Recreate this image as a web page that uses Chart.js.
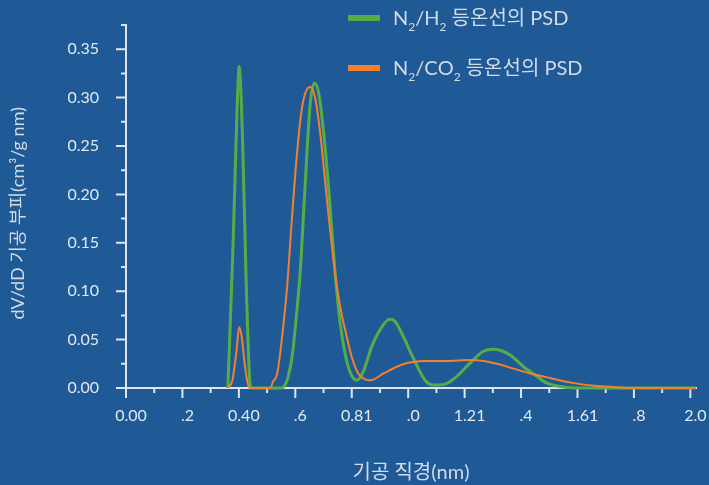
<!DOCTYPE html>
<html>
<head>
<meta charset="utf-8">
<script src="https://cdn.jsdelivr.net/npm/chart.js@4.4.1/dist/chart.umd.min.js"></script>
<style>
  html, body { margin: 0; padding: 0; background: #1f5a97; }
  #wrap { width: 709px; height: 485px; }
</style>
</head>
<body>
<div id="wrap"><canvas id="psdChart"></canvas></div>
<script>
// pore size (nm) and dV/dD values
const h2Size = [0.361, 0.380, 0.394, 0.401, 0.413, 0.425, 0.437, 0.443, 0.500, 0.552, 0.565, 0.575, 0.590, 0.599,
  0.617, 0.634, 0.652, 0.667, 0.684, 0.705, 0.723, 0.741, 0.759, 0.779, 0.796, 0.818, 0.841, 0.871, 0.900, 0.934,
  0.953, 0.983, 1.018, 1.060, 1.089, 1.131, 1.172, 1.220, 1.267, 1.302, 1.326, 1.361, 1.409, 1.456, 1.492, 1.551,
  1.610, 1.800, 2.020];
const h2Psd = [0, 0.153, 0.291, 0.332, 0.257, 0.119, 0.015, 0, 0, 0, 0.004, 0.012, 0.035, 0.060,
  0.119, 0.205, 0.291, 0.315, 0.303, 0.250, 0.188, 0.119, 0.067, 0.032, 0.015, 0.008, 0.017, 0.043, 0.060, 0.071,
  0.069, 0.053, 0.031, 0.008, 0.003, 0.004, 0.012, 0.026, 0.038, 0.040, 0.039, 0.034, 0.022, 0.012, 0.005, 0.001,
  0, 0, 0];

const co2Size = [0.361, 0.377, 0.392, 0.401, 0.410, 0.421, 0.433, 0.440, 0.510, 0.522, 0.536, 0.552, 0.570, 0.587,
  0.605, 0.623, 0.640, 0.655, 0.670, 0.688, 0.705, 0.723, 0.741, 0.759, 0.779, 0.800, 0.823, 0.847, 0.866, 0.913,
  0.960, 1.001, 1.054, 1.137, 1.220, 1.267, 1.315, 1.374, 1.432, 1.492, 1.551, 1.610, 1.670, 1.728, 1.800, 2.020];
const co2Psd = [0, 0.008, 0.039, 0.063, 0.053, 0.024, 0.003, 0, 0, 0.007, 0.015, 0.050, 0.101, 0.171,
  0.239, 0.288, 0.308, 0.311, 0.300, 0.264, 0.215, 0.164, 0.119, 0.084, 0.057, 0.032, 0.015, 0.009, 0.008, 0.015,
  0.022, 0.026, 0.028, 0.028, 0.029, 0.028, 0.025, 0.020, 0.015, 0.011, 0.007, 0.004, 0.002, 0.001, 0, 0];

const seriesNames = ['N_2/H_2 등온선의 PSD', 'N_2/CO_2 등온선의 PSD'];
const seriesColors = ['#55ad47', '#f47f2f'];

const xTickValues = [0, 0.2, 0.4, 0.6, 0.8, 1.0, 1.2, 1.4, 1.6, 1.8, 2.0];
const xTickLabels = ['0.00', '.2', '0.40', '.6', '0.81', '.0', '1.21', '.4', '1.61', '.8', '2.0'];

const axisColor = '#dfe5ec';
const textColor = '#e3e8ef';
const titleColor = '#d3dbe6';
const fontFamily = 'Lato, "Noto Sans CJK KR", sans-serif';

function toPoints(xs, ys) {
  return xs.map((x, i) => ({ x: x, y: ys[i] }));
}

// tick marks: long on labelled values, short halfway between them
const axisTicks = {
  id: 'axisTicks',
  beforeDatasetsDraw(chart) {
    const ctx = chart.ctx;
    const xs = chart.scales.x;
    const ys = chart.scales.y;
    ctx.save();
    ctx.strokeStyle = axisColor;
    ctx.lineWidth = 2;
    ctx.beginPath();
    const xt = xs.ticks.map(t => t.value);
    xt.forEach((v, i) => {
      const px = xs.getPixelForValue(v);
      ctx.moveTo(px, ys.bottom);
      ctx.lineTo(px, ys.bottom + 10);
      if (i < xt.length - 1) {
        const mx = xs.getPixelForValue((v + xt[i + 1]) / 2);
        ctx.moveTo(mx, ys.bottom);
        ctx.lineTo(mx, ys.bottom + 5);
      }
    });
    const yt = ys.ticks.map(t => t.value);
    const yStep = yt[1] - yt[0];
    yt.forEach(v => {
      const py = ys.getPixelForValue(v);
      ctx.moveTo(xs.left, py);
      ctx.lineTo(xs.left - 10, py);
      if (v + yStep / 2 <= ys.max + 1e-9) {
        const my = ys.getPixelForValue(v + yStep / 2);
        ctx.moveTo(xs.left, my);
        ctx.lineTo(xs.left - 5, my);
      }
    });
    ctx.stroke();
    ctx.restore();
  }
};

// legend with subscripts (the character after "_" is a subscript)
const subLegend = {
  id: 'subLegend',
  afterDraw(chart) {
    const ctx = chart.ctx;
    ctx.save();
    seriesNames.forEach((name, i) => {
      const cy = 18 + i * 50;
      ctx.fillStyle = seriesColors[i];
      ctx.fillRect(348, cy - 3, 32, 6);
      let x = 393;
      ctx.fillStyle = titleColor;
      ctx.textBaseline = 'alphabetic';
      for (let k = 0; k < name.length; k++) {
        let ch = name[k];
        if (ch === '_') {
          ch = name[++k];
          ctx.font = '12px ' + fontFamily;
          ctx.fillText(ch, x, cy + 13);
        } else {
          ctx.font = '20px ' + fontFamily;
          ctx.fillText(ch, x, cy + 6.5);
        }
        x += ctx.measureText(ch).width;
      }
    });
    ctx.restore();
  }
};

const psdChart = new Chart(document.getElementById('psdChart'), {
  type: 'line',
  data: {
    datasets: [
      {
        label: seriesNames[0],
        data: toPoints(h2Size, h2Psd),
        borderColor: seriesColors[0],
        borderWidth: 3,
        pointRadius: 0,
        cubicInterpolationMode: 'monotone',
        clip: false,
        order: 2
      },
      {
        label: seriesNames[1],
        data: toPoints(co2Size, co2Psd),
        borderColor: seriesColors[1],
        borderWidth: 2,
        pointRadius: 0,
        cubicInterpolationMode: 'monotone',
        clip: false,
        order: 1
      }
    ]
  },
  options: {
    responsive: true,
    maintainAspectRatio: false,
    animation: false,
    layout: { padding: { left: 0, right: 13, top: 25, bottom: 0 } },
    plugins: {
      legend: { display: false },
      tooltip: { enabled: false }
    },
    scales: {
      x: {
        type: 'linear',
        min: 0,
        max: 2.02,
        afterBuildTicks(scale) {
          scale.ticks = xTickValues.map(v => ({ value: v }));
        },
        afterFit(scale) {
          scale.height = 97;
          scale.paddingLeft = 0;
          scale.paddingRight = 0;
        },
        grid: { display: true, drawOnChartArea: false, drawTicks: false },
        border: { display: true, color: axisColor, width: 2 },
        ticks: {
          color: textColor,
          font: { family: fontFamily, size: 16 },
          padding: 18,
          labelOffset: 5,
          autoSkip: false,
          maxRotation: 0,
          callback: (v, i) => xTickLabels[i]
        },
        title: {
          display: true,
          text: '기공 직경(nm)',
          color: titleColor,
          font: { family: fontFamily, size: 20 },
          padding: { top: 0, bottom: 0 }
        }
      },
      y: {
        min: 0,
        max: 0.375,
        afterFit(scale) {
          scale.width = 126;
          scale.paddingTop = 0;
          scale.paddingBottom = 0;
        },
        grid: { display: true, drawOnChartArea: false, drawTicks: false },
        border: { display: true, color: axisColor, width: 2 },
        ticks: {
          stepSize: 0.05,
          includeBounds: false,
          color: textColor,
          font: { family: fontFamily, size: 16 },
          padding: 27,
          callback: v => v.toFixed(2)
        },
        title: {
          display: true,
          text: 'dV/dD 기공 부피(cm³/g nm)\u2003',
          color: titleColor,
          font: { family: fontFamily, size: 18 },
          padding: { top: 7, bottom: 0 }
        }
      }
    }
  },
  plugins: [axisTicks, subLegend]
});
</script>
</body>
</html>
